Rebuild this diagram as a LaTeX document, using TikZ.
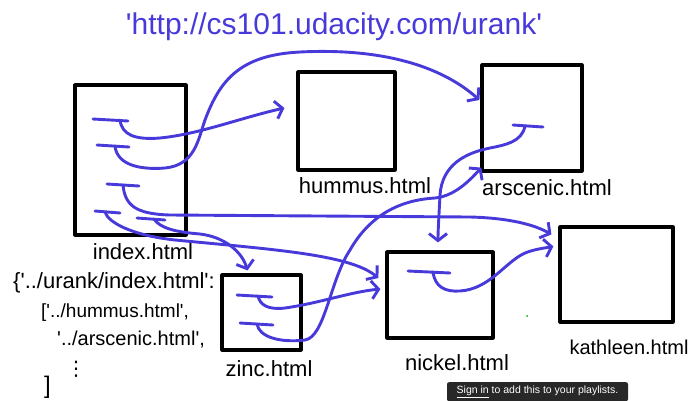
\documentclass[tikz,border=0pt]{standalone}
\usepackage{fontspec}
\newfontfamily\handfont{Liberation Sans}
\newfontfamily\dotsfont{DejaVu Sans}
\usetikzlibrary{calc,positioning,arrows.meta}
\definecolor{penblue}{RGB}{72,58,218}
\definecolor{tipgray}{RGB}{40,40,40}

\tikzset{
  page/.style={draw=black, line width=3.2pt, inner sep=0, line join=round},
  pagelabel/.style={font=\handfont\fontsize{22}{24}\selectfont, inner sep=0},
  link/.style={penblue, line width=2.9pt, line cap=round},
  linkto/.style={link, -{Straight Barb[length=7pt,width=18pt]}},
  codeline/.style={font=\handfont\fontsize{20}{22}\selectfont, inner sep=0, anchor=west},
}

\begin{document}
\begin{tikzpicture}[x=1pt,y=-1pt]
        \useasboundingbox[fill=white] (0,0) rectangle (692,400);

        % url
        \node[font=\handfont\fontsize{30}{32}\selectfont, text=penblue, inner sep=0] (url) at (334,27) {'http://cs101.udacity.com/urank'};

        % pages
        \node[page, minimum width=111pt, minimum height=150pt] (index) at (130.5,160) {};
        \node[page, minimum width=97pt, minimum height=98pt] (hummus) at (346.5,121) {};
        \node[page, minimum width=100pt, minimum height=106pt] (arscenic) at (532,118) {};
        \node[page, minimum width=79pt, minimum height=75pt] (zinc) at (261.5,312.5) {};
        \node[page, minimum width=106pt, minimum height=86pt] (nickel) at (440,295) {};
        \node[page, minimum width=113pt, minimum height=95pt] (kathleen) at (616.5,274.5) {};

        \node[pagelabel] (indexlbl) at (143,252) {index.html};
        \node[pagelabel] (hummuslbl) at (365,186) {hummus.html};
        \node[pagelabel] (arsceniclbl) at (547,188) {arscenic.html};
        \node[pagelabel] (zinclbl) at (269,369) {zinc.html};
        \node[pagelabel] (nickellbl) at (457,363) {nickel.html};
        \node[pagelabel, font=\handfont\fontsize{20}{22}\selectfont] (kathleenlbl) at (629,347) {kathleen.html};

        % link marks
        \foreach \n/\x/\y/\l/\r in {i1/120/120/27/8,i2/115/146/18/14,i3/123/185/16/16,i4/105/212/10/15,i5/154/219/17/11,z1/258/296/21/14,z2/257/324/17/16,a1/525/126/12/18,n1/433/272/25/17}
        {
            \coordinate (\n) at (\x,\y);
            \draw[link] (\x-\l,\y-1) -- (\x+\r,\y+1);
        }

        % index
        \draw[linkto] (i1) .. controls (122,135) and (135,140) .. (160,138) .. controls (200,134) and (240,118) .. ($(hummus.west)+(-12,-13)$);
        \draw[linkto] (i2) .. controls (117,165) and (140,170) .. (165,168) .. controls (195,165) and (198,140) .. (205,120) .. controls (220,80) and (240,55) .. (300,52) .. controls (380,48) and (440,65) .. ($(arscenic.west)+(-1,-18)$);
        \draw[linkto] (i3) .. controls (125,205) and (135,214) .. (170,215) -- (470,217) .. controls (510,218) and (535,225) .. ($(kathleen.north west)+(-7,9)$);
        \draw[linkto] (i4) .. controls (108,222) and (130,235) .. (175,240) .. controls (280,250) and (350,255) .. ($(nickel.west)+(-7,-17)$);
        \draw[linkto] (i5) .. controls (160,228) and (175,232) .. (200,234) .. controls (225,237) and (242,252) .. ($(zinc.north)+(-14,-3)$);

        % zinc
        \draw[linkto] (z1) .. controls (260,305) and (268,310) .. (285,308) .. controls (320,303) and (350,292) .. ($(nickel.west)+(-5,-6)$);
        \draw[linkto] (z2) .. controls (259,337) and (280,343) .. (305,340) .. controls (325,337) and (330,280) .. (350,250) .. controls (370,215) and (400,200) .. (435,198) .. controls (455,196) and (470,180) .. ($(arscenic.south west)+(1,-5)$);

        % arscenic, nickel
        \draw[linkto] (a1) .. controls (522,142) and (505,145) .. (490,148) .. controls (465,153) and (442,165) .. (440,195) .. controls (439,215) and (438,230) .. ($(nickel.north)+(-2,-8)$);
        \draw[linkto] (n1) .. controls (435,287) and (445,292) .. (460,291) .. controls (490,289) and (505,262) .. (525,253) .. controls (535,249) and (545,248) .. ($(kathleen.north west)+(-5,21)$);

        % index as a list
        \node[codeline, font=\handfont\fontsize{22}{24}\selectfont] (code1) at (13,283) {\{'../urank/index.html':};
        \node[codeline, font=\handfont\fontsize{19}{21}\selectfont] (code2) at (41,313) {['../hummus.html',};
        \node[codeline] (code3) at (57,340) {'../arscenic.html',};
        \node[font=\dotsfont\fontsize{20}{22}\selectfont, inner sep=0] (code4) at (76,369) {⋮};
        \node[codeline, font=\handfont\fontsize{24}{26}\selectfont] (code5) at (44,387) {]};

        \fill[green!70!black] (527,316) circle (1pt);

        \node[fill=tipgray, rounded corners=2pt, text=white, font=\handfont\fontsize{10.5}{12}\selectfont, minimum width=181pt, minimum height=19pt, inner sep=0, anchor=north] (signin) at (537.5,382) {\underline{Sign in} to add this to your playlists.};
    \end{tikzpicture}
\end{document}
